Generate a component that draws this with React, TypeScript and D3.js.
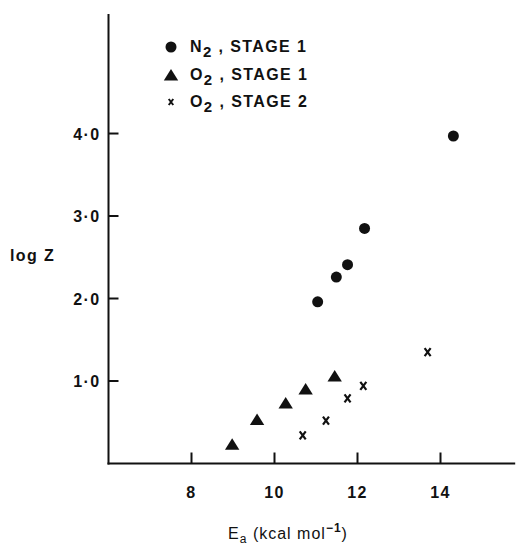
import React from "react";
import * as d3 from "d3";

// E_a (kcal/mol) vs log Z
const n2Stage1X = [11.04, 11.49, 11.76, 12.17, 14.31];
const n2Stage1Y = [1.96, 2.26, 2.41, 2.85, 3.97];

const o2Stage1X = [8.98, 9.58, 10.27, 10.75, 11.45];
const o2Stage1Y = [0.22, 0.52, 0.72, 0.89, 1.05];

const o2Stage2X = [10.68, 11.24, 11.76, 12.14, 13.69];
const o2Stage2Y = [0.34, 0.52, 0.79, 0.94, 1.35];

const xTicks = [8, 10, 12, 14];
const yTicks = [1, 2, 3, 4];
const yTickLabels = ["1·0", "2·0", "3·0", "4·0"];

const W = 524;
const H = 548;

const font = "'Liberation Sans', Arial, sans-serif";

const triPath = "M0,-7L7.2,4.5L-7.2,4.5Z";
const crossPath = (s: number) => `M${-s * 0.75},${-s}L${s * 0.75},${s}M${s * 0.75},${-s}L${-s * 0.75},${s}`;

const App = () => {
  const x = d3.scaleLinear().domain([6, 16]).range([108.5, 523.5]);
  const y = d3.scaleLinear().domain([0, 5.45]).range([463.5, 13.9]);

  const x0 = x(6);
  const y0 = y(0);

  const textStyle = {
    fontFamily: font,
    fontWeight: 700,
    fontSize: 16,
    letterSpacing: 1.4,
    fill: "#111",
  };

  const legend = [
    { mol: "N", label: " , STAGE 1", kind: "circle" },
    { mol: "O", label: " , STAGE 1", kind: "tri" },
    { mol: "O", label: " , STAGE 2", kind: "cross" },
  ];
  const legendY = [47, 75, 102];

  return (
    <svg width={W} height={H} style={{ position: "absolute", left: 0, top: 0, background: "#fff" }}>
      {/* axes */}
      <line x1={x0} x2={x0} y1={y(5.45)} y2={y0 + 1} stroke="#111" strokeWidth={2} />
      <line x1={x0 - 1} x2={x(15.8)} y1={y0} y2={y0} stroke="#111" strokeWidth={2} />

      {yTicks.map((t, i) => (
        <g key={t}>
          <line x1={x0} x2={x0 + 10} y1={y(t)} y2={y(t)} stroke="#111" strokeWidth={2} />
          <text x={x0 - 8} y={y(t) + 6} textAnchor="end" style={textStyle}>
            {yTickLabels[i]}
          </text>
        </g>
      ))}

      {xTicks.map((t) => (
        <g key={t}>
          <line x1={x(t)} x2={x(t)} y1={y0} y2={y0 - 11} stroke="#111" strokeWidth={2} />
          <text x={x(t)} y={498} textAnchor="middle" style={textStyle}>
            {t}
          </text>
        </g>
      ))}

      <text x={10} y={261} style={textStyle}>
        log Z
      </text>

      <text x={288} y={539} textAnchor="middle" style={{ ...textStyle, fontWeight: 400, letterSpacing: 1 }}>
        E
        <tspan fontSize={12} dy={4}>a</tspan>
        <tspan dy={-4}> (kcal  mol</tspan>
        <tspan fontSize={12} fontWeight={700} dy={-7}>−1</tspan>
        <tspan dy={7}>)</tspan>
      </text>

      {/* data */}
      {n2Stage1X.map((v, i) => (
        <circle key={"n" + i} cx={x(v)} cy={y(n2Stage1Y[i])} r={5.5} fill="#111" />
      ))}
      {o2Stage1X.map((v, i) => (
        <path key={"o" + i} d={triPath} transform={`translate(${x(v)},${y(o2Stage1Y[i])})`} fill="#111" />
      ))}
      {o2Stage2X.map((v, i) => (
        <path
          key={"x" + i}
          d={crossPath(4)}
          transform={`translate(${x(v)},${y(o2Stage2Y[i])})`}
          stroke="#111"
          strokeWidth={2.2}
          fill="none"
        />
      ))}

      {/* legend */}
      {legend.map((l, i) => (
        <g key={i}>
          {l.kind === "circle" && <circle cx={171} cy={legendY[i]} r={5.5} fill="#111" />}
          {l.kind === "tri" && <path d={triPath} transform={`translate(171,${legendY[i] + 1})`} fill="#111" />}
          {l.kind === "cross" && (
            <path
              d={crossPath(3)}
              transform={`translate(171,${legendY[i]})`}
              stroke="#111"
              strokeWidth={2}
              fill="none"
            />
          )}
          <text x={190} y={legendY[i] + 5} style={textStyle}>
            {l.mol}
            <tspan fontSize={15} dy={5}>2</tspan>
            <tspan dy={-5}>{l.label}</tspan>
          </text>
        </g>
      ))}
    </svg>
  );
};

export default App;
